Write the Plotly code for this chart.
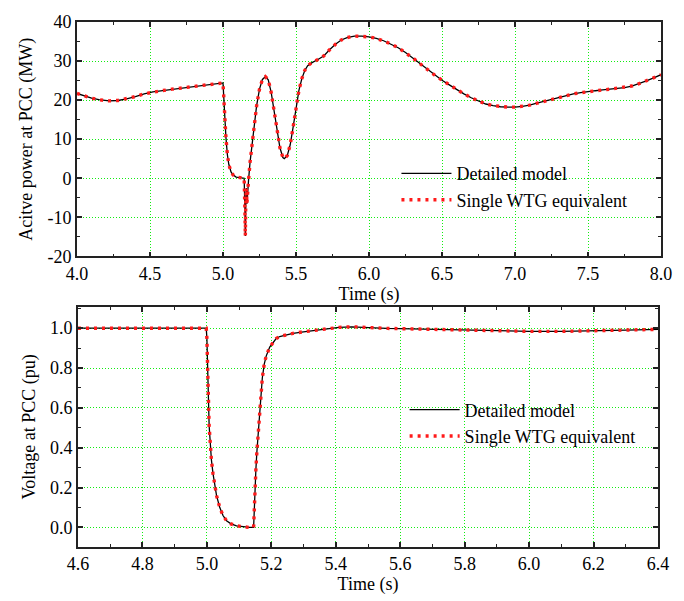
import plotly.graph_objects as go

# ---------------- data ----------------
t_power = [4.00, 4.05, 4.10, 4.15, 4.22, 4.28, 4.34, 4.40, 4.46, 4.52, 4.58, 4.65, 4.72, 4.80,
           4.87, 4.94, 4.99, 5.00, 5.005, 5.012, 5.02, 5.03, 5.04, 5.055, 5.07, 5.09, 5.12, 5.145,
           5.150, 5.153, 5.156, 5.160, 5.164, 5.168, 5.175, 5.185, 5.195, 5.21, 5.23, 5.25, 5.27,
           5.29, 5.31, 5.33, 5.35, 5.37, 5.39, 5.41, 5.42, 5.44, 5.46, 5.48, 5.50, 5.52, 5.54,
           5.56, 5.58, 5.61, 5.65, 5.69, 5.73, 5.77, 5.81, 5.85, 5.90, 5.95, 6.00, 6.05, 6.10,
           6.15, 6.20, 6.25, 6.30, 6.35, 6.40, 6.45, 6.50, 6.55, 6.60, 6.65, 6.70, 6.75, 6.80,
           6.85, 6.90, 6.95, 7.00, 7.05, 7.10, 7.15, 7.20, 7.25, 7.30, 7.35, 7.40, 7.45, 7.50,
           7.55, 7.60, 7.65, 7.70, 7.75, 7.80, 7.85, 7.90, 7.95, 8.00]
p_detailed = [21.7, 21.0, 20.5, 20.1, 19.8, 19.9, 20.3, 20.9, 21.6, 22.1, 22.4, 22.8, 23.1, 23.5,
              23.9, 24.2, 24.4, 24.4, 21.0, 15.5, 10.5, 6.0, 3.5, 1.6, 0.8, 0.3, 0.1, 0.0,
              -8.0, -14.8, -6.0, -2.5, -6.5, -3.0, -0.5, 4.0, 7.5, 13.0, 18.5, 22.8, 25.3,
              26.0, 25.2, 22.0, 17.0, 11.8, 7.8, 5.3, 5.0, 5.8, 8.5, 13.0, 18.0, 22.5, 25.5,
              27.6, 28.8, 29.6, 30.4, 31.3, 32.9, 34.3, 35.4, 36.0, 36.4, 36.4, 36.2, 35.8, 35.2,
              34.4, 33.4, 32.2, 30.8, 29.3, 27.8, 26.4, 25.1, 23.9, 22.7, 21.6, 20.6, 19.7, 19.0,
              18.6, 18.3, 18.2, 18.2, 18.4, 18.7, 19.2, 19.7, 20.2, 20.7, 21.2, 21.6, 21.9, 22.2,
              22.4, 22.6, 22.8, 23.0, 23.2, 23.6, 24.2, 24.9, 25.7, 26.5]
p_equivalent = list(p_detailed)

t_volt = [4.60, 4.80, 4.998, 5.000, 5.002, 5.004, 5.007, 5.010, 5.014, 5.019, 5.024, 5.030,
          5.040, 5.050, 5.061, 5.075, 5.092, 5.11, 5.133, 5.145, 5.148, 5.152, 5.155, 5.160,
          5.164, 5.168, 5.172, 5.178, 5.184, 5.195, 5.205, 5.215, 5.226, 5.245, 5.267, 5.30,
          5.33, 5.37, 5.41, 5.45, 5.48, 5.52, 5.56, 5.62, 5.70, 5.80, 5.90, 6.00, 6.10, 6.20,
          6.30, 6.40]
v_detailed = [1.0, 1.0, 1.0, 0.95, 0.86, 0.70, 0.51, 0.42, 0.34, 0.27, 0.21, 0.16,
              0.10, 0.06, 0.034, 0.018, 0.008, 0.003, 0.0, 0.0, 0.18, 0.29, 0.376, 0.50,
              0.60, 0.69, 0.75, 0.82, 0.86, 0.905, 0.928, 0.948, 0.958, 0.967, 0.974, 0.982,
              0.989, 0.997, 1.004, 1.007, 1.006, 1.002, 0.999, 0.997, 0.994, 0.99, 0.986, 0.984,
              0.984, 0.986, 0.99, 0.994]
v_equivalent = list(v_detailed)

power_yticks = [-20, -10, 0, 10, 20, 30, 40]
power_yticklabels = ["-20", "-10", "0", "10", "20", "30", "40"]

names = ["Detailed model", "Single WTG equivalent"]

# ---------------- figure ----------------
FONT = "Liberation Serif"
GRID = "#11ee11"
AXC = "#222222"
RED_DASH = dict(color="#ff1a1a", width=3.4, dash="3px,5px")

fig = go.Figure()
fig.add_trace(go.Scatter(x=t_power, y=p_detailed, mode="lines", name=names[0],
                         line=dict(color="black", width=1.3), xaxis="x", yaxis="y", legend="legend"))
fig.add_trace(go.Scatter(x=t_power, y=p_equivalent, mode="lines", name=names[1],
                         line=RED_DASH, xaxis="x", yaxis="y", legend="legend"))
fig.add_trace(go.Scatter(x=t_volt, y=v_detailed, mode="lines", name=names[0],
                         line=dict(color="black", width=1.3), xaxis="x2", yaxis="y2", legend="legend2"))
fig.add_trace(go.Scatter(x=t_volt, y=v_equivalent, mode="lines", name=names[1],
                         line=RED_DASH, xaxis="x2", yaxis="y2", legend="legend2"))

axis_common = dict(showline=True, linecolor=AXC, linewidth=1.6, mirror="ticks",
                   ticks="inside", ticklen=5, tickcolor=AXC, tickwidth=1.5,
                   showgrid=True, gridcolor=GRID, griddash="1px,2px", gridwidth=1,
                   zeroline=False, tickfont=dict(family=FONT, size=18, color="black"),
                   title_font=dict(family=FONT, size=18, color="black"))

def minor(dt, t0):
    return dict(ticks="inside", ticklen=3, dtick=dt, tick0=t0, tickcolor=AXC, tickwidth=1.2, showgrid=False)

fig.update_layout(
    width=684, height=601,
    margin=dict(l=77, r=22, t=17, b=44),
    paper_bgcolor="white", plot_bgcolor="white",
    font=dict(family=FONT, size=18, color="black"),
    xaxis=dict(axis_common, domain=[0, 1], anchor="y", range=[4.0, 8.0],
               tickmode="linear", tick0=4.0, dtick=0.5, tickformat=".1f",
               minor=minor(0.25, 4.0),
               title=dict(text="Time (s)", standoff=2)),
    yaxis=dict(axis_common, domain=[0.5537, 1.0], anchor="x", range=[-20, 40],
               tickmode="array", tickvals=power_yticks, ticktext=power_yticklabels,
               minor=minor(5, 0),
               title=dict(text="Acitve power at PCC (MW)", standoff=10)),
    xaxis2=dict(axis_common, domain=[0.0017, 0.9949], anchor="y2", range=[4.6, 6.4],
                tickmode="linear", tick0=4.6, dtick=0.2, tickformat=".1f",
                minor=minor(0.1, 4.6),
                title=dict(text="Time (s)", standoff=2)),
    yaxis2=dict(axis_common, domain=[0.0, 0.4574], anchor="x2", range=[-0.098, 1.107],
                tickmode="linear", tick0=0, dtick=0.2, tickformat=".1f",
                minor=minor(0.1, 0),
                title=dict(text="Voltage at PCC (pu)", standoff=10)),
    legend=dict(x=0.547, y=0.7463, xanchor="left", yanchor="top", bgcolor="rgba(0,0,0,0)",
                font=dict(family=FONT, size=18, color="black"), itemwidth=50, tracegroupgap=0),
    legend2=dict(x=0.561, y=0.2963, xanchor="left", yanchor="top", bgcolor="rgba(0,0,0,0)",
                 font=dict(family=FONT, size=18, color="black"), itemwidth=50, tracegroupgap=0),
    showlegend=True,
)

fig.write_html("out.html")
